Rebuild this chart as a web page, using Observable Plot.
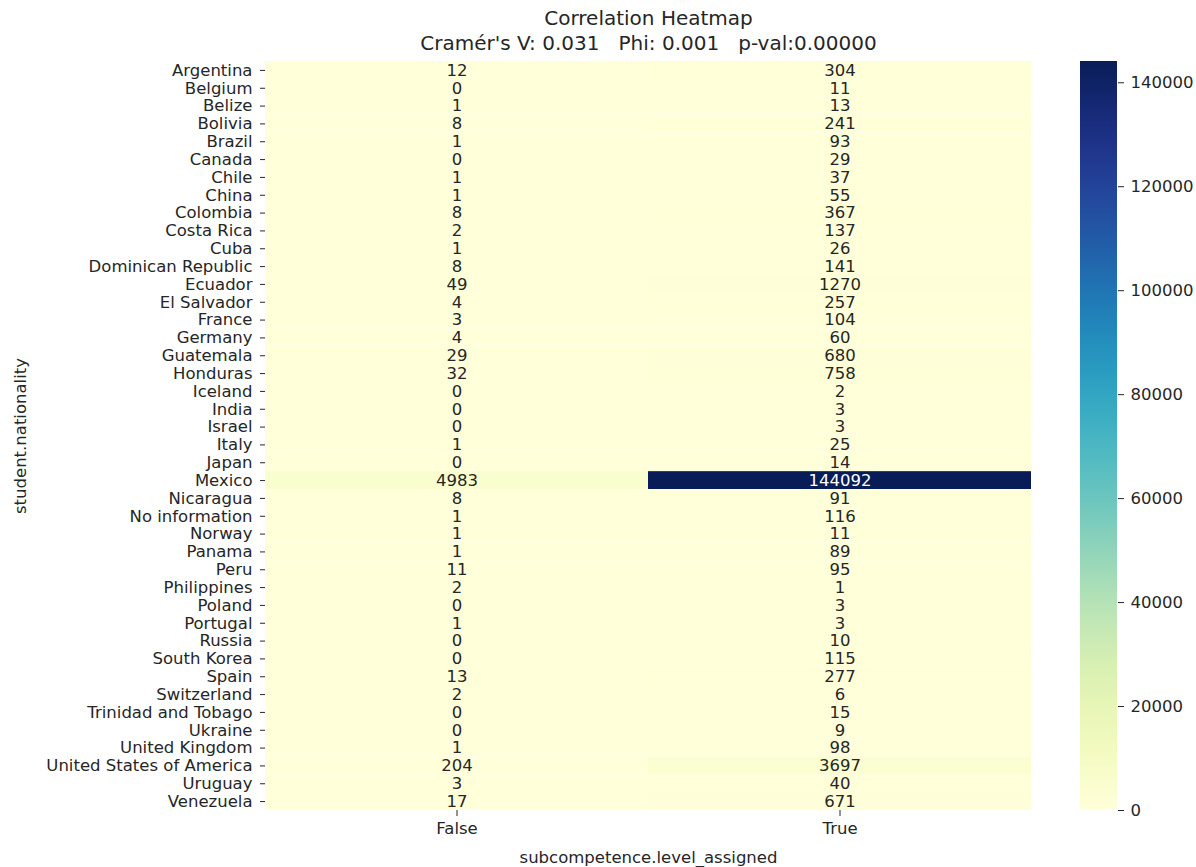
<!DOCTYPE html>
<html>
<head>
<meta charset="utf-8">
<script src="https://cdn.jsdelivr.net/npm/d3@7"></script>
<script src="https://cdn.jsdelivr.net/npm/@observablehq/plot@0.6"></script>
<style>
  html, body { margin: 0; padding: 0; background: #fff; }
  #wrap { position: relative; width: 1196px; height: 867px; font-family: "DejaVu Sans", sans-serif; color: #262626; }
  #wrap svg { position: absolute; top: 0; }
</style>
</head>
<body>
<div id="wrap"></div>
<script>
const countries = ["Argentina","Belgium","Belize","Bolivia","Brazil","Canada","Chile","China","Colombia","Costa Rica","Cuba","Dominican Republic","Ecuador","El Salvador","France","Germany","Guatemala","Honduras","Iceland","India","Israel","Italy","Japan","Mexico","Nicaragua","No information","Norway","Panama","Peru","Philippines","Poland","Portugal","Russia","South Korea","Spain","Switzerland","Trinidad and Tobago","Ukraine","United Kingdom","United States of America","Uruguay","Venezuela"];
const columns = ["False", "True"];
const falseCounts = [12,0,1,8,1,0,1,1,8,2,1,8,49,4,3,4,29,32,0,0,0,1,0,4983,8,1,1,1,11,2,0,1,0,0,13,2,0,0,1,204,3,17];
const trueCounts = [304,11,13,241,93,29,37,55,367,137,26,141,1270,257,104,60,680,758,2,3,3,25,14,144092,91,116,11,89,95,1,3,3,10,115,277,6,15,9,98,3697,40,671];
const colorTicks = [0,20000,40000,60000,80000,100000,120000,140000];
const titleText = "Correlation Heatmap";
const subtitleText = "Cramér's V: 0.031   Phi: 0.001   p-val:0.00000";
const xLabel = "subcompetence.level_assigned";
const yLabel = "student.nationality";

const cells = [];
countries.forEach((c, i) => {
  cells.push({country: c, col: "False", value: falseCounts[i]});
  cells.push({country: c, col: "True", value: trueCounts[i]});
});
const vmax = d3.max(cells, d => d.value);
const colorOpts = {type: "linear", scheme: "YlGnBu", domain: [0, vmax]};
const fs = 16.5;

const main = Plot.plot({
  width: 1196,
  height: 867,
  marginLeft: 265,
  marginRight: 165,
  marginTop: 61,
  marginBottom: 57,
  style: {fontFamily: "DejaVu Sans, sans-serif", fontSize: fs + "px", color: "#262626", background: "transparent", overflow: "visible"},
  x: {domain: columns, padding: 0, label: xLabel, labelAnchor: "center", labelOffset: 52, tickSize: 6, tickPadding: 6},
  y: {domain: countries, padding: 0, label: yLabel, labelAnchor: "center", labelOffset: 251, tickSize: 5, tickPadding: 8},
  color: colorOpts,
  marks: [
    Plot.cell(cells, {x: "col", y: "country", fill: "value", inset: 0}),
    Plot.text(cells.filter(d => d.value <= vmax * 0.6), {x: "col", y: "country", text: d => String(d.value), fill: "#262626", fontSize: fs}),
    Plot.text(cells.filter(d => d.value > vmax * 0.6), {x: "col", y: "country", text: d => String(d.value), fill: "white", fontSize: fs}),
    Plot.text([titleText], {frameAnchor: "top", text: d => d, dy: -51, fontSize: 20, fill: "#262626"}),
    Plot.text([subtitleText], {frameAnchor: "top", text: d => d, dy: -26, fontSize: 20, fill: "#262626"})
  ]
});
main.style.left = "0px";
document.getElementById("wrap").appendChild(main);

const step = vmax / 749;
const bands = d3.range(0, 749).map(i => ({v0: i * step, v1: Math.min((i + 1) * step + step * 0.5, vmax), v: i * step + step / 2}));

const bar = Plot.plot({
  width: 116,
  height: 867,
  marginLeft: 0,
  marginRight: 79,
  marginTop: 61,
  marginBottom: 57,
  style: {fontFamily: "DejaVu Sans, sans-serif", fontSize: fs + "px", color: "#262626", background: "transparent", overflow: "visible"},
  x: {domain: [0, 1], axis: null},
  y: {domain: [0, vmax], axis: "right", ticks: colorTicks, tickFormat: d3.format("d"), tickSize: 6, tickPadding: 7, label: null},
  color: colorOpts,
  marks: [
    Plot.rect(bands, {x1: 0, x2: 1, y1: "v0", y2: "v1", fill: "v"})
  ]
});
bar.style.left = "1080px";
document.getElementById("wrap").appendChild(bar);
</script>
</body>
</html>
